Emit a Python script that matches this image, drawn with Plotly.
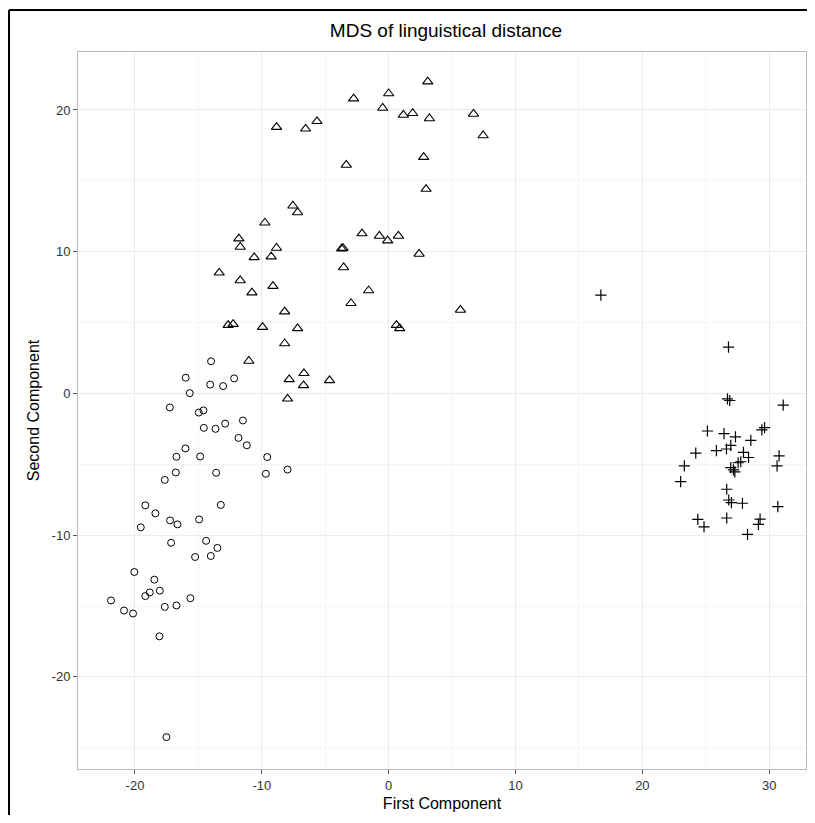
import plotly.graph_objects as go

# Group 1: open circles
circle_x = [-14.0, -16.0, -14.07, -13.05, -12.18, -15.68, -17.25, -14.97, -14.6, -11.49,
            -14.57, -13.65, -12.89, -11.84, -11.18, -16.02, -16.73, -14.86, -9.57, -16.78,
            -13.6, -9.68, -7.97, -17.65, -19.18, -13.23, -18.39,
            -17.23, -16.65, -14.94, -19.54, -17.15, -14.39, -13.5, -15.26, -14.02,
            -20.05, -18.47, -19.18, -18.83, -18.04, -15.63, -21.89, -20.86, -20.15,
            -17.65, -16.73, -18.07, -17.52]
circle_y = [2.27, 1.11, 0.62, 0.52, 1.06, 0.02, -0.99, -1.35, -1.2, -1.91,
            -2.43, -2.5, -2.13, -3.14, -3.66, -3.88, -4.47, -4.45, -4.49, -5.58,
            -5.6, -5.67, -5.37, -6.1, -7.9, -7.87, -8.46,
            -8.96, -9.24, -8.89, -9.45, -10.54, -10.4, -10.9, -11.54, -11.47,
            -12.6, -13.14, -14.3, -14.04, -13.92, -14.45, -14.61, -15.32, -15.53,
            -15.06, -14.96, -17.14, -24.25]

# Group 2: open triangles
tri_x = [-12.65, -12.26, -9.94, -7.18, -8.2, -11.02, -7.84, -6.68, -6.71, -4.66, -7.97,
         -9.76, -11.81, -11.7, -8.84, -10.6, -9.26, -2.1, -0.73, -0.08, 0.77, -3.71, -3.6,
         2.4, -3.55, -13.36, -11.7, -10.78, -9.12, -1.58, -2.97, 5.66, -8.2, 0.61, 0.87,
         3.08, 0.0, -2.76, -0.47, 1.16, 1.89, 3.21, 6.69, 7.45, -8.84, -6.55, -5.65,
         -3.34, 2.76, 2.95, -7.55, -7.18]
tri_y = [4.82, 4.89, 4.68, 4.59, 3.52, 2.29, 0.99, 1.42, 0.57, 0.92, -0.38,
         12.04, 10.92, 10.33, 10.26, 9.6, 9.65, 11.28, 11.11, 10.78, 11.11, 10.21, 10.25,
         9.84, 8.89, 8.51, 7.97, 7.11, 7.57, 7.26, 6.36, 5.89, 5.77, 4.82, 4.59,
         22.0, 21.16, 20.8, 20.14, 19.65, 19.77, 19.4, 19.72, 18.2, 18.79, 18.67, 19.2,
         16.12, 16.67, 14.42, 13.24, 12.77]

# Group 3: plus signs
plus_x = [16.73, 26.79, 26.71, 26.89, 31.1, 29.63, 29.42, 25.13, 26.44, 27.34,
          28.55, 24.21, 25.84, 26.63, 26.97, 27.97, 28.37, 30.78, 27.76, 27.55,
          30.62, 23.31, 26.97, 27.29, 27.18, 23.02, 26.65, 26.81, 27.02, 27.89,
          30.68, 24.37, 24.86, 26.65, 29.28, 29.15, 28.29]
plus_y = [6.93, 3.26, -0.38, -0.5, -0.83, -2.41, -2.57, -2.65, -2.84, -3.07,
          -3.31, -4.21, -4.04, -3.92, -3.67, -4.16, -4.52, -4.4, -4.82, -4.89,
          -5.11, -5.11, -5.23, -5.53, -5.39, -6.22, -6.76, -7.52, -7.71, -7.75,
          -7.99, -8.89, -9.41, -8.79, -8.87, -9.24, -9.95]

x_ticks = [-20, -10, 0, 10, 20, 30]
y_ticks = [-20, -10, 0, 10, 20]

fig = go.Figure()
fig.add_trace(go.Scatter(x=circle_x, y=circle_y, mode="markers",
                         marker=dict(symbol="circle-open", size=7, color="black",
                                     line=dict(width=1, color="black"))))
fig.add_trace(go.Scatter(x=tri_x, y=tri_y, mode="markers",
                         marker=dict(symbol="triangle-up-open", size=9, color="black",
                                     line=dict(width=1.1, color="black"))))
fig.add_trace(go.Scatter(x=plus_x, y=plus_y, mode="markers",
                         marker=dict(symbol="cross-thin-open", size=8, color="black",
                                     line=dict(width=1.2, color="black"))))

# figure sized so the page (with 8px body margin) has no scrollbars
W, H = 799, 807
L, T, B = 70, 44, 46
PW = W - L - 1
PH = H - T - B

font_family = "Liberation Sans, Arial, sans-serif"
fig.update_layout(
    width=W, height=H,
    margin=dict(l=L, r=1, t=T, b=B),
    paper_bgcolor="white", plot_bgcolor="white",
    showlegend=False,
    font=dict(family=font_family, color="#222"),
    title=dict(text="MDS of linguistical distance", x=(446 - 8) / W, xanchor="center",
               y=1 - 22 / H, yanchor="middle",
               font=dict(size=19, color="black", family=font_family)),
    xaxis=dict(range=[-24.49, 32.9], tickvals=x_ticks, ticktext=[str(v) for v in x_ticks],
               showgrid=True, gridcolor="#ebebeb", gridwidth=1,
               minor=dict(dtick=5, tick0=0, showgrid=True, gridcolor="#f5f5f5", gridwidth=1, ticks=""),
               zeroline=False, ticks="outside", ticklen=4, tickcolor="#555", tickwidth=1,
               tickfont=dict(size=13, color="#333"),
               showline=True, linecolor="#bbbbbb", linewidth=1, mirror=True,
               title=dict(text="First Component", font=dict(size=16, color="black"), standoff=6)),
    yaxis=dict(range=[-26.5, 24.09], tickvals=y_ticks, ticktext=[str(v) for v in y_ticks],
               showgrid=True, gridcolor="#ebebeb", gridwidth=1,
               minor=dict(dtick=5, tick0=0, showgrid=True, gridcolor="#f5f5f5", gridwidth=1, ticks=""),
               zeroline=False, ticks="outside", ticklen=4, tickcolor="#555", tickwidth=1,
               tickfont=dict(size=13, color="#333"),
               showline=True, linecolor="#bbbbbb", linewidth=1, mirror=True,
               title=dict(text="Second Component", font=dict(size=16, color="black"), standoff=8)),
)

# Outer black frame of the picture: only its top and left edges are in view
x_left = (1 - L) / PW
y_top = (PH + T - 2) / PH
fig.add_shape(type="line", xref="paper", yref="paper",
              x0=x_left, x1=(W - L) / PW, y0=y_top, y1=y_top,
              line=dict(color="black", width=2), layer="above")
fig.add_shape(type="line", xref="paper", yref="paper",
              x0=x_left, x1=x_left, y0=(PH + T - H) / PH, y1=y_top,
              line=dict(color="black", width=2), layer="above")

fig.write_html("out.html")
